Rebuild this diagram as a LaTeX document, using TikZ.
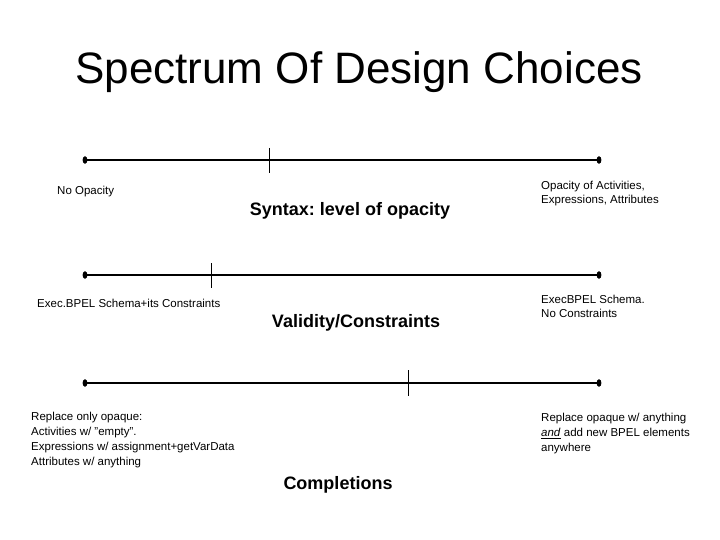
\documentclass[tikz,border=0pt]{standalone}
\usepackage{fontspec}
\setmainfont{Liberation Sans}
\frenchspacing
\begin{document}
\begin{tikzpicture}[x=1pt,y=-1pt,
  axis/.style={line width=2.2pt},
  tickmark/.style={line width=0.7pt},
  small/.style={font=\fontsize{11.5}{14}\selectfont,align=left,inner sep=0pt,anchor=base west},
  big/.style={font=\fontsize{18}{22}\selectfont\bfseries,inner sep=0pt,anchor=base}]
\useasboundingbox (0,0) rectangle (720,540);
\node[font=\fontsize{44}{50}\selectfont,anchor=base,inner sep=0pt] (title) at (359,84) {Spectrum Of Design Choices};
% line 1
\coordinate (a1) at (85,160);
\coordinate (b1) at (599,160);
\draw[axis] (a1) -- (b1);
\fill (a1) ellipse (2.4 and 3.8);
\fill (b1) ellipse (2.4 and 3.8);
\coordinate (t1u) at (269,148);
\coordinate (t1d) at (269,173);
\draw[tickmark] (t1u) -- (t1d);
\node[small] (l1) at (57,195) {No Opacity};
\node[big] (c1) at (350,215) {Syntax: level of opacity};
\node[small] (r1) at (541,204) {Opacity of Activities,\\Expressions, Attributes};
% line 2
\coordinate (a2) at (85,275);
\coordinate (b2) at (599,275);
\draw[axis] (a2) -- (b2);
\fill (a2) ellipse (2.4 and 3.8);
\fill (b2) ellipse (2.4 and 3.8);
\coordinate (t2u) at (211,263);
\coordinate (t2d) at (211,288);
\draw[tickmark] (t2u) -- (t2d);
\node[small] (l2) at (37,307) {Exec.BPEL Schema+its Constraints};
\node[big] (c2) at (356,327) {Validity/Constraints};
\node[small] (r2) at (541,317) {ExecBPEL Schema.\\No Constraints};
% line 3
\coordinate (a3) at (85,383);
\coordinate (b3) at (599,383);
\draw[axis] (a3) -- (b3);
\fill (a3) ellipse (2.4 and 3.8);
\fill (b3) ellipse (2.4 and 3.8);
\coordinate (t3u) at (408,370);
\coordinate (t3d) at (408,396);
\draw[tickmark] (t3u) -- (t3d);
\node[small,font=\fontsize{11.5}{14.7}\selectfont] (l3) at (31,465) {Replace only opaque:\\Activities w/ "empty".\\Expressions w/ assignment+getVarData\\Attributes w/ anything};
\node[small,font=\fontsize{11.5}{14.7}\selectfont] (r3) at (541,451) {Replace opaque w/ anything\\\underline{\textit{and}} add new BPEL elements\\anywhere};
\node[big] (c3) at (338,489) {Completions};
\end{tikzpicture}
\end{document}
